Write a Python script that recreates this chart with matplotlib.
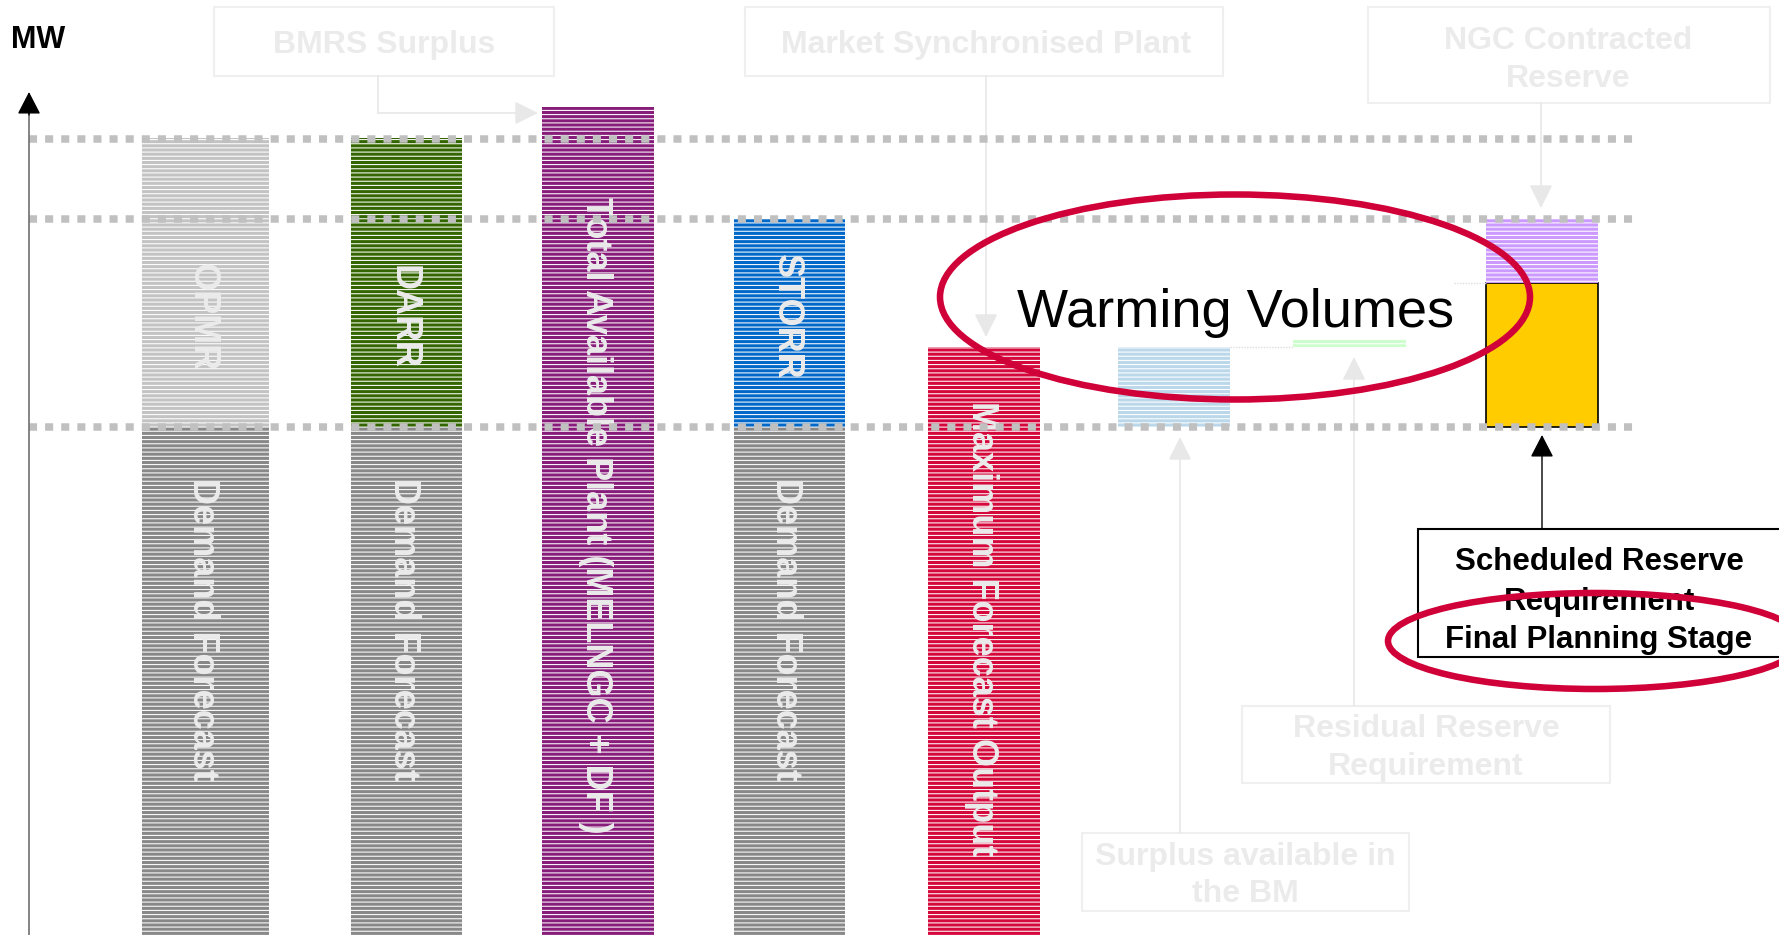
# Diagram rezerv: stĺpce MW, bodkované úrovne a popisy
import matplotlib
matplotlib.use('Agg')
import matplotlib.pyplot as plt
from matplotlib.patches import Ellipse, Rectangle

plt.rcParams['font.family'] = ['Liberation Sans', 'DejaVu Sans']
plt.rcParams['hatch.linewidth'] = 0.75
plt.rcParams['hatch.color'] = 'white'
plt.rcParams['lines.scale_dashes'] = False

# Stĺpce - stred a šírka
col_x = [205, 406, 598, 789, 984, 1174, 1349, 1542]
col_w = [127, 111, 112, 111, 112, 112, 113, 112]

# Úseky stĺpcov (index stĺpca, spodok, vrch, farba, pruhy)
seg_col = [0, 0, 1, 1, 2, 3, 3, 4, 5, 6, 7, 7]
seg_bottom = [0, 508, 0, 508, 0, 0, 508, 0, 508, 588, 508, 652]
seg_top = [508, 797, 508, 797, 828, 508, 716, 588, 588, 596, 652, 716]
seg_colour = ['#888888', '#C3C3C3', '#888888', '#336600', '#871C7B', '#888888',
              '#0068C8', '#D5083C', '#BBD8EB', '#CCFFCC', '#FFCC00', '#CC99FF']
seg_striped = [True, True, True, True, True, True, True, True, True, True, False, True]

# Bodkované úrovne
levels = [796, 716, 508]

# Zvislé popisy v stĺpcoch (text, stĺpec, y, zarovnanie)
vlab_text = ['OPMR', 'DARR', 'Demand Forecast', 'Demand Forecast', 'Demand Forecast',
             'Total Available Plant (MELNGC + DF )', 'STORR', 'Maximum Forecast Output']
vlab_col = [0, 1, 0, 1, 3, 2, 3, 4]
vlab_y = [618, 618, 457, 457, 457, 738, 618, 534]
vlab_va = ['center', 'center', 'top', 'top', 'top', 'top', 'center', 'top']

# Bledé rámčeky (x0, y0, x1, y1)
faint_boxes = [(214, 859, 554, 928), (745, 859, 1223, 928), (1368, 832, 1770, 928),
               (1242, 152, 1610, 229), (1082, 24, 1409, 102)]
# Bledé texty (text, x, y základnej čiary)
faint_text = ['BMRS Surplus', 'Market Synchronised Plant', 'NGC Contracted', 'Reserve',
              'Residual Reserve', 'Requirement', 'Surplus available in', 'the BM']
faint_text_x = [384, 986, 1568, 1568, 1426, 1426, 1245, 1245]
faint_text_y = [882, 882, 886, 848, 198, 160, 70, 33]

# Spojovacie šípky (začiatok, koniec)
faint_arrows = [((378, 822), (538, 822)), ((986, 859), (986, 598)), ((1541, 832), (1541, 727)),
                ((1180, 102), (1180, 498)), ((1354, 229), (1354, 578))]

# Scheduled Reserve rámček
srr_box = (1418, 278, 1800, 406)
srr_lines = ['Scheduled Reserve', 'Requirement', 'Final Planning Stage']
srr_lines_y = [365, 325, 287]

fig = plt.figure(figsize=(17.79, 9.35), dpi=100)
ax = fig.add_axes([0, 0, 1, 1])
ax.set_xlim(0, 1779)
ax.set_ylim(0, 935)
ax.axis('off')

# Stĺpce
for i in range(len(seg_col)):
    c = seg_col[i]
    if seg_striped[i]:
        ax.bar(col_x[c], seg_top[i] - seg_bottom[i], width=col_w[c], bottom=seg_bottom[i],
               color=seg_colour[i], edgecolor='white', linewidth=0, hatch='----', zorder=1)
    else:
        ax.bar(col_x[c], seg_top[i] - seg_bottom[i], width=col_w[c], bottom=seg_bottom[i],
               color=seg_colour[i], edgecolor='black', linewidth=1.2, zorder=1)

# Zvislé popisy
for i in range(len(vlab_text)):
    ax.text(col_x[vlab_col[i]] - 3, vlab_y[i], vlab_text[i], rotation=270, ha='center',
            va=vlab_va[i], fontsize=26, fontweight='bold', color='#EBEBEB', zorder=2)

# Bodkované čiary (8 px štvorčeky, 8 px medzery)
for lvl in levels:
    ax.plot([29, 1637], [lvl, lvl], color='#C0C0C0', lw=5.4, linestyle=(0, (5.8, 5.8)),
            dash_capstyle='butt', zorder=3)

# Slabé bodkované spojnice
ax.plot([1230, 1293], [588, 588], color='#DDDDDD', lw=1, linestyle=(0, (1, 1)), zorder=3)
ax.plot([1454, 1486], [652, 652], color='#DDDDDD', lw=1, linestyle=(0, (1, 1)), zorder=3)

# Os MW
ax.plot([29, 29], [-5, 830], color='#707070', lw=1.2, zorder=4)
ax.annotate('', xy=(29, 843), xytext=(29, 820),
            arrowprops=dict(arrowstyle='-|>,head_length=0.58,head_width=0.3', mutation_scale=24,
                            color='black', lw=1.0, shrinkA=0, shrinkB=0), zorder=4)
ax.text(11, 887, 'MW', fontsize=22, fontweight='bold', ha='left', va='baseline')

# Bledé rámčeky a texty
for (x0, y0, x1, y1) in faint_boxes:
    ax.add_patch(Rectangle((x0, y0), x1 - x0, y1 - y0, fill=False, edgecolor='#EFEFEF',
                           lw=1.5, zorder=2))
for i in range(len(faint_text)):
    ax.text(faint_text_x[i], faint_text_y[i], faint_text[i], fontsize=23, fontweight='bold',
            color='#EBEBEB', ha='center', va='baseline', zorder=2)

ax.plot([378, 378], [859, 822], color='#E8E8E8', lw=1.2, zorder=2)
for start, end in faint_arrows:
    ax.annotate('', xy=end, xytext=start,
                arrowprops=dict(arrowstyle='-|>,head_length=0.6,head_width=0.3', mutation_scale=24,
                                color='#E8E8E8', lw=1.2, shrinkA=0, shrinkB=0), zorder=2)

# Scheduled Reserve Requirement
x0, y0, x1, y1 = srr_box
ax.add_patch(Rectangle((x0, y0), x1 - x0, y1 - y0, facecolor='white', edgecolor='black',
                       lw=1.5, zorder=4))
for txt, yy in zip(srr_lines, srr_lines_y):
    ax.text(1599, yy, txt, fontsize=22.5, fontweight='bold', ha='center', va='baseline', zorder=5)
ax.annotate('', xy=(1542, 500), xytext=(1542, 406),
            arrowprops=dict(arrowstyle='-|>,head_length=0.58,head_width=0.3', mutation_scale=24,
                            color='black', lw=1.0, shrinkA=0, shrinkB=0), zorder=4)

# Warming Volumes a elipsy
ax.text(1236, 608, 'Warming Volumes', fontsize=39, ha='center', va='baseline', zorder=5)
ax.add_patch(Ellipse((1235, 638), 590, 205, fill=False, edgecolor='#D00038', lw=4.7, zorder=6))
ax.add_patch(Ellipse((1595, 294), 414, 96, fill=False, edgecolor='#D00038', lw=4.7, zorder=6))

plt.savefig('out.png', dpi=100)
